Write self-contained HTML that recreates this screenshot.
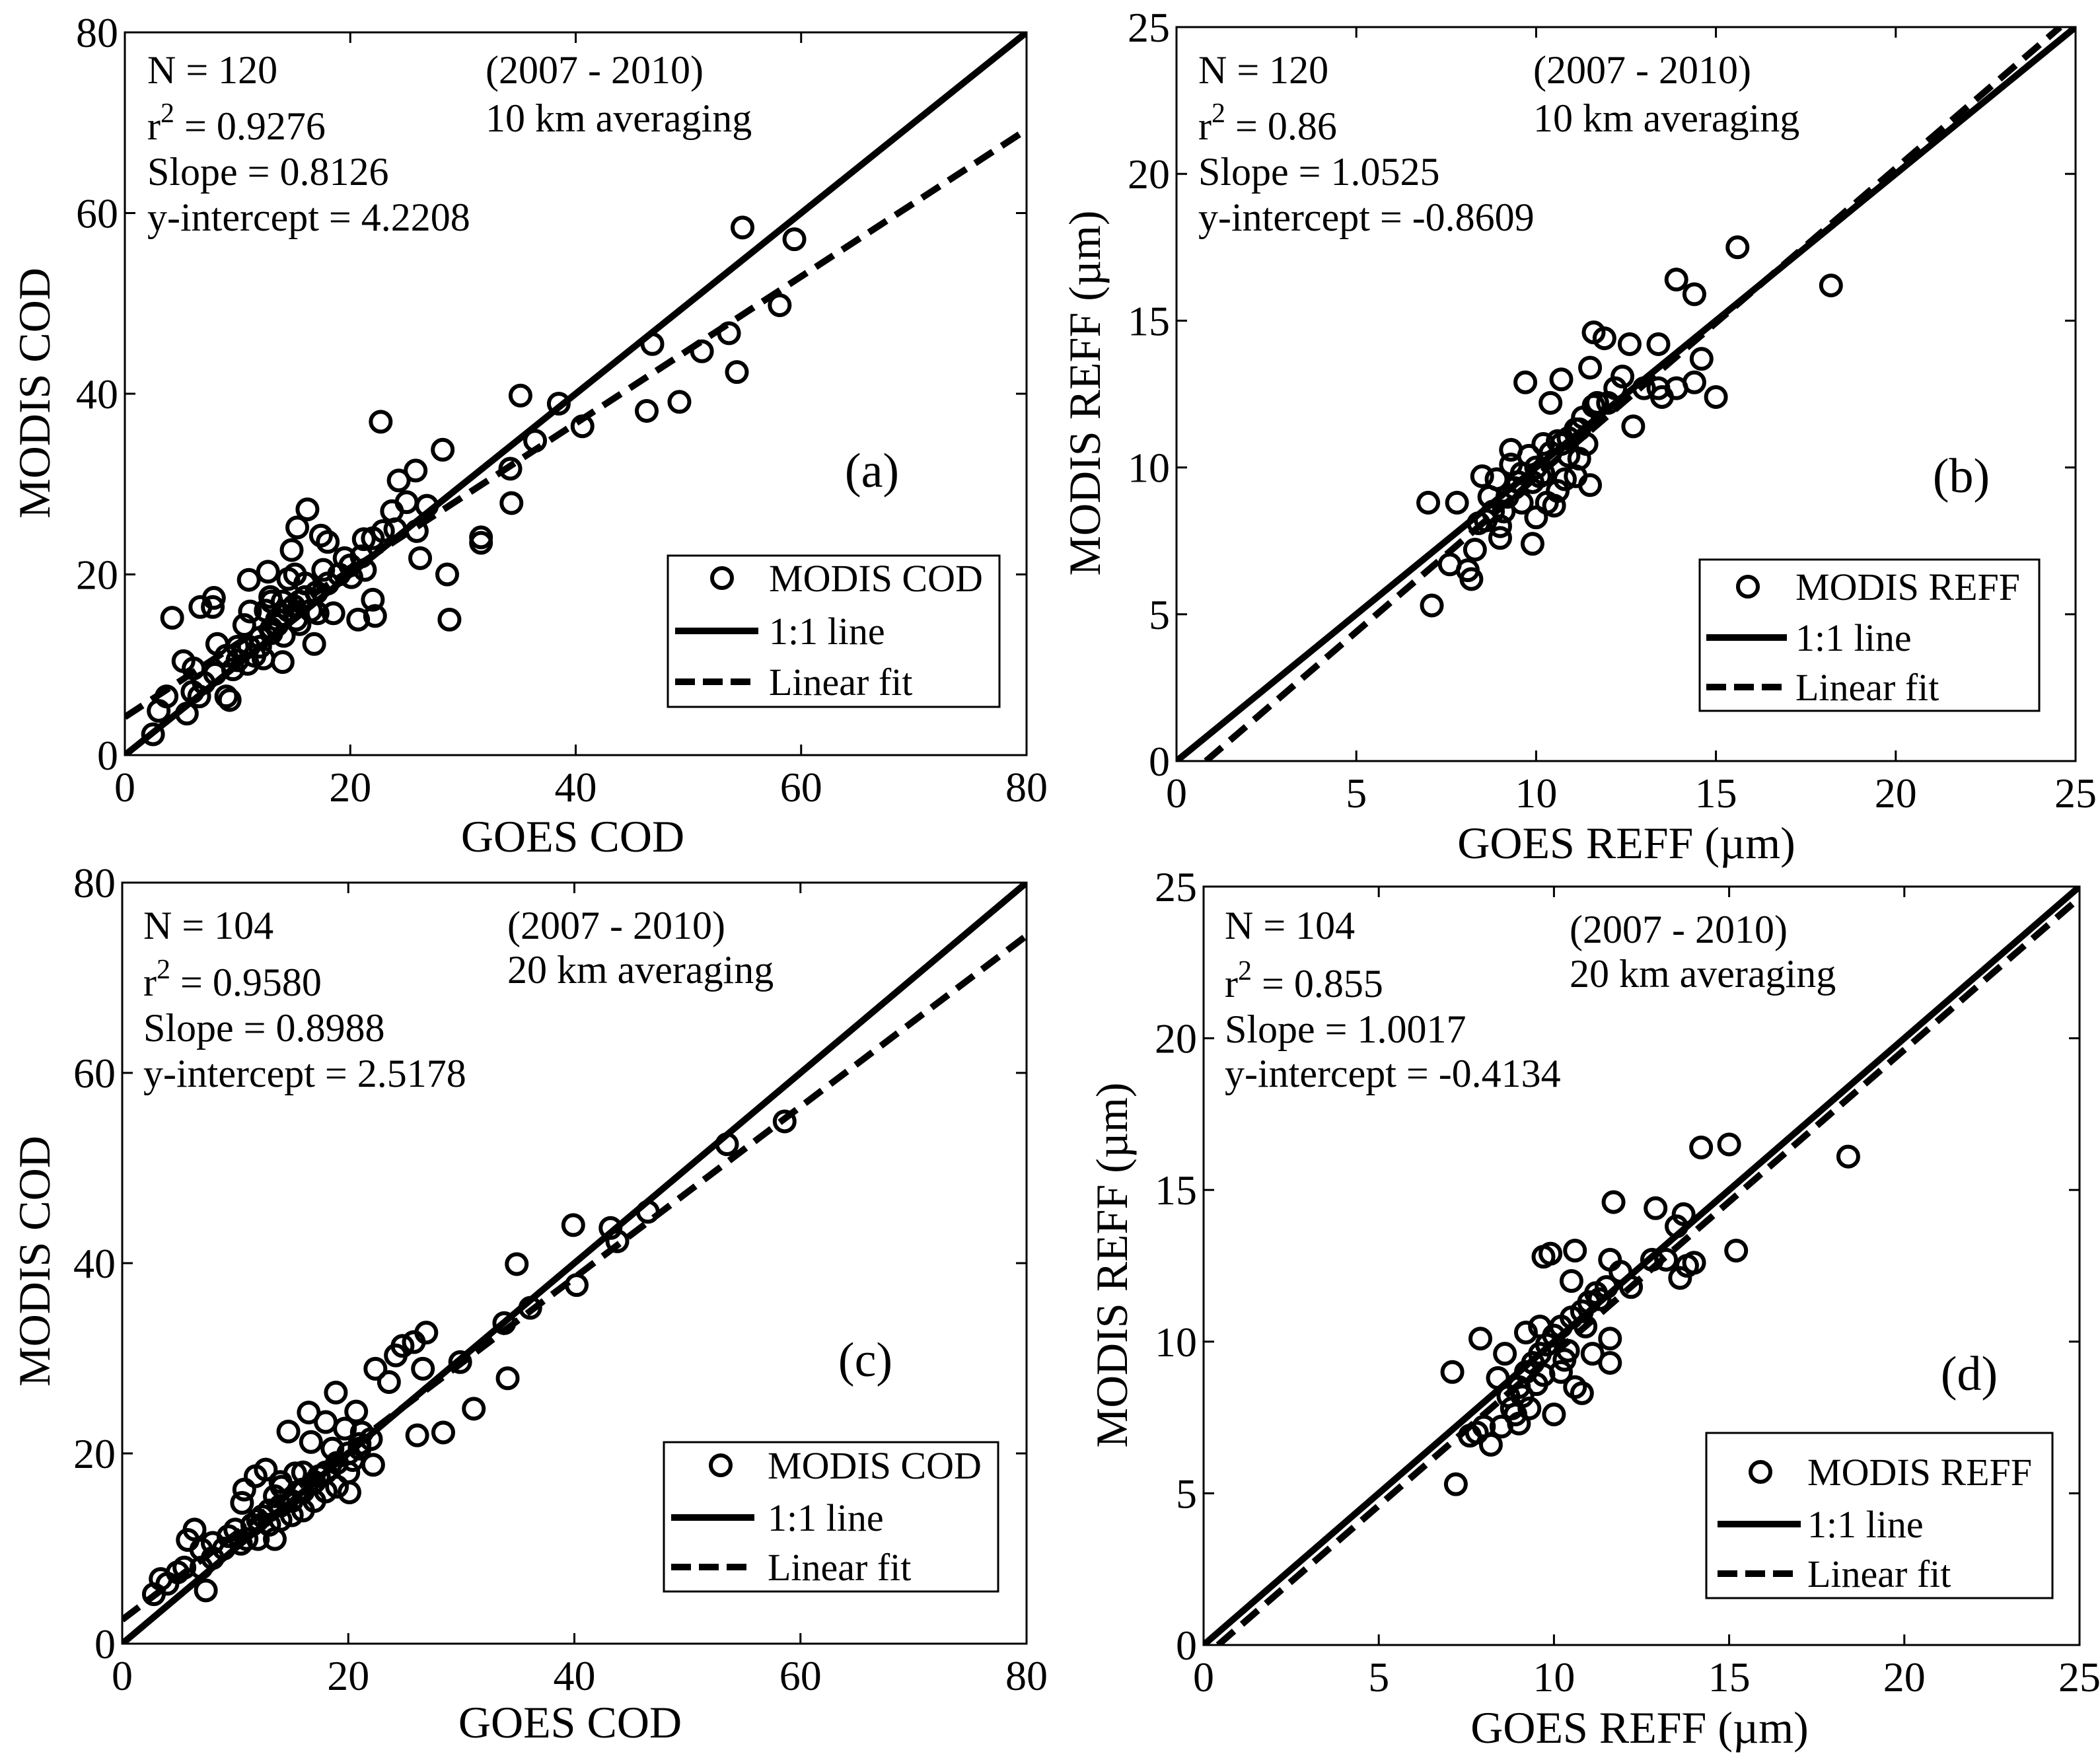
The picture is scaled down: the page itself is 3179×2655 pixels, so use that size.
<!DOCTYPE html>
<html><head><meta charset="utf-8"><style>
html,body{margin:0;padding:0;background:#fff;}
svg{display:block;}
svg text{font-family:"Liberation Serif","Times New Roman",serif;}
</style></head>
<body>
<svg id="fig" width="3179" height="2655" viewBox="0 0 3179 2655" xmlns="http://www.w3.org/2000/svg"></svg>
<script>
// ---- data ----
const ticksCOD = [0,20,40,60,80];
const ticksREFF = [0,5,10,15,20,25];
const aX = [2.5,3,3.7,4.2,5.2,5.5,6.1,6.6,6.7,7.9,7.8,8.2,9,9.3,9.6,10.9,11,10.6,11.1,12.3,12.7,12.9,14,13.5,14.1,14.8,15.3,15.1,15.2,16.2,16.8,17.1,17.4,18,17.6,18.5,19.5,20.1,20.7,21.3,21.2,22,22.2,22.7,22.9,23.7,24.3,25.8,25.9,26.2,26.8,28.2,28.6,28.8,31.6,31.6,34.2,34.3,35.1,36.4,38.5,40.6,46.3,46.8,49.2,51.2,53.6,54.3,54.8,58.1,59.4,12,13,13.5,14,14.5,15,15.5,16,16.5,17,18,19,20,21,14,16,9,10,11,12,13,8,7,6,11.5,12.5,13,14.5,15.5,25,24,22,10];
const aY = [2.3,4.9,6.5,15.2,10.4,4.6,9.6,6.5,16.4,17.4,16.4,12.3,6.5,6.1,9.5,10.1,19.4,14.4,15.9,10.7,20.3,17.5,10.3,14.4,13.2,22.7,25.2,20,15,27.2,12.3,15.7,24.3,23.6,20.5,15.7,21.8,19.7,15,20.5,23.9,17.2,15.4,36.9,24.8,27,30.4,31.5,24.8,21.8,27.6,33.8,20,15,24.1,23.5,31.7,27.9,39.8,34.8,38.9,36.4,38.1,45.5,39.1,44.7,46.7,42.4,58.4,49.8,57.1,12,13.5,15,15.5,16,16.5,17,17.5,16,18,19,20,21,22,17,19,11,10.5,12,13,14,9,8,7,11,16,17,19.5,14.5,28,25,24,12];
const bX = [7.1,7,7.6,7.8,8.1,8.2,8.3,8.4,8.5,8.7,9,9.1,9.3,9.5,9.6,9.8,9.7,9.9,10.1,10.2,10.4,10.6,10.7,10.7,10.9,11.1,11.2,11.5,11.6,11.9,11.7,11.4,11.5,12,12.2,12.4,12.6,12.7,13,13.4,13.5,13.4,13.9,13.9,14.4,14.4,14.6,15,15.6,18.2,8.8,9.2,9.4,9.6,9.9,10,10.2,10.4,10.6,10.9,11.1,11.3,11.6,9,8.6,8.9,10.5,10.8,11.2,9.3,10,10.3];
const bY = [5.3,8.8,6.7,8.8,6.5,6.2,7.2,8.1,9.7,9,7.6,8.5,10.1,9.5,8.8,10.4,12.9,7.4,9.7,10.8,12.2,9.2,13,10.8,10.4,9.7,11.3,13.4,14.6,14.4,12.2,10.8,9.4,12.2,12.7,13.1,14.2,11.4,12.7,12.7,12.4,14.2,12.7,16.4,15.9,12.9,13.7,12.4,17.5,16.2,8.5,9,9.3,9.8,9.5,10,9.8,10.5,10.9,11,11.3,11.7,12.1,8,8.2,9.6,8.7,9.6,10.3,10.6,8.3,8.8];
const cX = [2.8,3.4,4,4.9,5.5,5.8,6.4,7,7.4,8,9.4,10,10.6,10.8,11.8,12.4,12.7,13.5,13.5,14.1,14.7,15.3,15.9,16.5,16.7,17.4,18,18.6,18.9,19.7,20.1,20.4,20.7,21.2,22.2,22.4,23.6,24.2,24.8,25.8,26.1,26.6,26.9,28.4,29.9,31.1,33.8,34.1,34.9,36.1,39.9,40.2,43.2,43.8,46.5,53.5,58.6,10.5,11,11.5,12,13,14,15,16,17,18,19,20,21,12,13,14,15,16,17,18,19,20,21,22,16,14,9,8,7];
const cY = [5.2,6.8,6.3,7.5,8,10.9,12,9.9,5.6,10.6,11.3,12,14.8,16.2,17.6,13.4,18.3,11,15.5,16.5,22.3,17.9,16.2,24.3,21.2,17.6,23.3,20.5,26.4,22.6,15.9,19.3,24.4,22.2,18.8,28.9,27.5,30.3,31.3,31.7,21.9,28.9,32.7,22.2,29.6,24.7,33.7,27.9,39.9,35.3,44,37.7,43.7,42.3,45.4,52.5,54.9,10.5,11,12.5,13,14,14.5,15,16,17,18,19,20,20.5,11,12.5,13,13.5,14,15,16,16.5,18,21,21.5,18,17,10,9,8];
const dX = [7.2,7.1,7.6,7.9,8.2,8.4,8.6,8.9,9,9.2,9.3,9.6,9.7,9.9,10,10.2,10.4,10.5,10.6,10.6,10.8,11.1,11.3,11.6,11.6,11.6,11.7,11.9,12.2,12.8,12.9,13.2,13.5,13.6,13.7,13.8,14,14.2,15,15.2,18.4,8.7,9,9.2,9.4,9.6,9.8,10,10.2,10.5,10.8,11,11.2,11.5,8.8,9.1,9.5,9.7,10.3,8.5,8,7.8,10.9];
const dY = [5.3,9,6.9,10.1,6.6,8.8,9.6,7.6,7.3,10.3,7.8,10.5,12.8,12.9,7.6,9,9.7,12,8.5,13,8.3,9.6,11.4,12.7,10.1,9.3,14.6,12.3,11.8,12.7,14.4,12.7,13.8,12.1,14.2,12.5,12.6,16.4,16.5,13,16.1,8.2,8.5,9,9.3,9.6,9.9,10.2,10.5,10.8,11,11.3,11.6,11.8,7.8,8.2,8.6,8.9,9.4,7.2,7.2,7,10.5];
const fitA = [0.8126,4.2208], fitB = [1.0525,-0.8609], fitC = [0.8988,2.5178], fitD = [1.0017,-0.4134];

const NS = "http://www.w3.org/2000/svg";
const svg = document.getElementById('fig');
function mk(tag, attrs, parent, text){
  const e = document.createElementNS(NS, tag);
  for (const k in attrs) e.setAttribute(k, attrs[k]);
  if (text !== undefined) e.textContent = text;
  (parent||svg).appendChild(e);
  return e;
}
const AF = 60, TF = 64, LF = 58;

function panel(p){
  const g = mk('g', {});
  
  
  const sx = v => p.x0 + v / p.max * (p.x1 - p.x0);
  const sy = v => p.y0 - v / p.max * (p.y0 - p.y1);
  const fr = mk('rect', {x:p.x0, y:p.y1, width:p.x1-p.x0, height:p.y0-p.y1, fill:'none', stroke:'#000', 'stroke-width':3}, g);
  
  
  p.ticks.forEach(t => {
    const x = sx(t), y = sy(t);
    mk('line', {x1:x, y1:p.y0, x2:x, y2:p.y0-16, stroke:'#000','stroke-width':3}, g);
    mk('line', {x1:x, y1:p.y1, x2:x, y2:p.y1+16, stroke:'#000','stroke-width':3}, g);
    mk('line', {x1:p.x0, y1:y, x2:p.x0+16, y2:y, stroke:'#000','stroke-width':3}, g);
    mk('line', {x1:p.x1, y1:y, x2:p.x1-16, y2:y, stroke:'#000','stroke-width':3}, g);
    const xl = mk('text', {x:x, y:p.y0+70, 'font-size':TF, 'text-anchor':'middle'}, g, String(t));
    
    
    const yl = mk('text', {x:p.x0-10, y:y+22, 'font-size':TF, 'text-anchor':'end'}, g, String(t));
    
    
  });
  const cp = mk('clipPath', {id:'clip'+p.id}, g);
  mk('rect', {x:p.x0, y:p.y1, width:p.x1-p.x0, height:p.y0-p.y1}, cp);
  const l1 = mk('line', {x1:sx(0), y1:sy(0), x2:sx(p.max), y2:sy(p.max), stroke:'#000','stroke-width':10,'clip-path':'url(#clip'+p.id+')'}, g);
  
  
  const m = p.fit[0], b = p.fit[1];
  let xs = 0; if (b < 0) xs = -b/m;
  const xe = Math.min(p.max, (p.max - b)/m);
  const lf = mk('line', {x1:sx(xs), y1:sy(m*xs+b), x2:sx(xe), y2:sy(m*xe+b), stroke:'#000','stroke-width':10,'stroke-dasharray':'32 16','clip-path':'url(#clip'+p.id+')'}, g);
  
  
  p.xs.forEach((xv,i) => {
    const c = mk('circle', {cx:sx(xv), cy:sy(p.ys[i]), r:15, fill:'none', stroke:'#000','stroke-width':6}, g);
    
    
  });
  const lines = p.ann;
  const t1 = mk('text', {x:p.ax, y:p.ay[0], 'font-size':AF}, g, lines[0]);
  
  
  const t2 = mk('text', {x:p.ax, y:p.ay[1], 'font-size':AF}, g);
  
  
  mk('tspan', {}, t2, 'r');
  mk('tspan', {dy:-26, 'font-size':42}, t2, '2');
  mk('tspan', {dy:26}, t2, ' = ' + lines[1]);
  const t3 = mk('text', {x:p.ax, y:p.ay[2], 'font-size':AF}, g, lines[2]);
  
  
  const t4 = mk('text', {x:p.ax, y:p.ay[3], 'font-size':AF}, g, lines[3]);
  
  
  const t5 = mk('text', {x:p.bx, y:p.by[0], 'font-size':AF}, g, '(2007 - 2010)');
  
  
  const t6 = mk('text', {x:p.bx, y:p.by[1], 'font-size':AF}, g, p.avg);
  
  
  const pl = mk('text', {x:p.lab[0], y:p.lab[1]+26, 'font-size':74, 'text-anchor':'middle'}, g, '(' + p.id + ')');
  
  
  const xt = mk('text', {x:p.xt[0], y:p.xt[1]+24, 'font-size':68, 'text-anchor':'middle'}, g, p.xtitle);
  
  
  const yt = mk('text', {x:0, y:0, 'font-size':68, 'text-anchor':'middle', transform:'translate('+(p.yt[0]+24)+','+p.yt[1]+') rotate(-90)'}, g, p.ytitle);
  
  
  const L = p.leg;
  const lg = mk('g', {}, g);
  
  
  mk('rect', {x:L.x, y:L.y, width:L.w, height:L.h, fill:'#fff', stroke:'#000','stroke-width':3}, lg);
  const e1 = mk('g', {}, lg);
  
  
  mk('circle', {cx:L.mx, cy:L.rows[0], r:15, fill:'none', stroke:'#000','stroke-width':6}, e1);
  mk('text', {x:L.tx, y:L.rows[0]+20, 'font-size':LF}, e1, p.legName);
  const e2 = mk('g', {}, lg);
  
  
  mk('line', {x1:L.lx0, y1:L.rows[1], x2:L.lx1, y2:L.rows[1], stroke:'#000','stroke-width':10}, e2);
  mk('text', {x:L.tx, y:L.rows[1]+20, 'font-size':LF}, e2, '1:1 line');
  const e3 = mk('g', {}, lg);
  
  
  mk('line', {x1:L.lx0, y1:L.rows[2], x2:L.lx1, y2:L.rows[2], stroke:'#000','stroke-width':10,'stroke-dasharray':'30 12'}, e3);
  mk('text', {x:L.tx, y:L.rows[2]+20, 'font-size':LF}, e3, 'Linear fit');
}

panel({id:'a', x0:189, x1:1554, y0:1143, y1:49, max:80, ticks:ticksCOD, xs:aX, ys:aY, fit:fitA,
  ann:['N = 120','0.9276','Slope = 0.8126','y-intercept = 4.2208'], ax:223, ay:[126,211,280,349],
  bx:735, by:[126,199], avg:'10 km averaging', lab:[1320,711], xt:[867,1265], yt:[51,595],
  xtitle:'GOES COD', ytitle:'MODIS COD', legName:'MODIS COD',
  leg:{x:1011,y:841,w:502,h:229,mx:1093,tx:1164,lx0:1022,lx1:1148,rows:[875,955,1032]}});
panel({id:'b', x0:1781, x1:3142, y0:1152, y1:41, max:25, ticks:ticksREFF, xs:bX, ys:bY, fit:fitB,
  ann:['N = 120','0.86','Slope = 1.0525','y-intercept = -0.8609'], ax:1814, ay:[126,211,280,349],
  bx:2321, by:[126,199], avg:'10 km averaging', lab:[2969,719], xt:[2462,1275], yt:[1641,595],
  xtitle:'GOES REFF (\u00b5m)', ytitle:'MODIS REFF (\u00b5m)', legName:'MODIS REFF',
  leg:{x:2573,y:847,w:514,h:229,mx:2646,tx:2718,lx0:2583,lx1:2705,rows:[888,965,1040]}});
panel({id:'c', x0:185, x1:1554, y0:2488, y1:1336, max:80, ticks:ticksCOD, xs:cX, ys:cY, fit:fitC,
  ann:['N = 104','0.9580','Slope = 0.8988','y-intercept = 2.5178'], ax:217, ay:[1421,1507,1576,1645],
  bx:768, by:[1421,1488], avg:'20 km averaging', lab:[1310,2057], xt:[863,2606], yt:[51,1909],
  xtitle:'GOES COD', ytitle:'MODIS COD', legName:'MODIS COD',
  leg:{x:1005,y:2183,w:506,h:226,mx:1091,tx:1162,lx0:1016,lx1:1142,rows:[2218,2297,2372]}});
panel({id:'d', x0:1822, x1:3148, y0:2490, y1:1342, max:25, ticks:ticksREFF, xs:dX, ys:dY, fit:fitD,
  ann:['N = 104','0.855','Slope = 1.0017','y-intercept = -0.4134'], ax:1854, ay:[1421,1509,1578,1645],
  bx:2376, by:[1427,1494], avg:'20 km averaging', lab:[2981,2078], xt:[2482,2614], yt:[1682,1915],
  xtitle:'GOES REFF (\u00b5m)', ytitle:'MODIS REFF (\u00b5m)', legName:'MODIS REFF',
  leg:{x:2583,y:2169,w:524,h:250,mx:2665,tx:2736,lx0:2600,lx1:2726,rows:[2228,2307,2382]}});
</script>
</body></html>
